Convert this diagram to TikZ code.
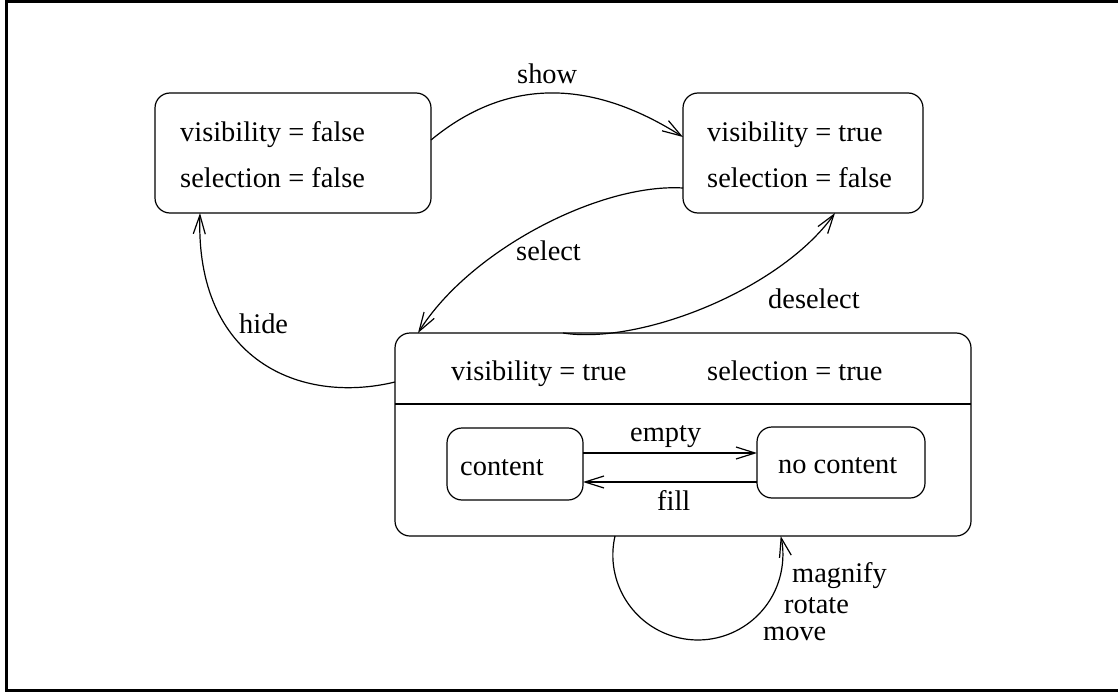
\documentclass[tikz,border=0pt]{standalone}
\usepackage{fontspec}
\setmainfont{Liberation Serif}
\usetikzlibrary{arrows.meta,calc}
\begin{document}
\begin{tikzpicture}[x=1pt,y=-1pt,
  box/.style={draw, rounded corners=15pt, line width=1.2pt, inner sep=0pt, outer sep=0pt},
  txt/.style={font=\fontsize{28.4}{34}\selectfont, anchor=base west, inner sep=0pt},
  arr/.style={line width=1.2pt, -{Straight Barb[length=19pt,width=12pt,line width=1.2pt]}}]
\useasboundingbox (0,0) rectangle (1118,695);
\begin{scope}
\clip (0,0) rectangle (1118,695);
\draw[line width=3.3pt] (6.5,1.7) rectangle (1140,690.8);
\end{scope}
% boxes
\node[box, minimum width=276pt, minimum height=120pt] (A) at (293,153) {};
\node[box, minimum width=240pt, minimum height=120pt] (B) at (803,153) {};
\node[box, minimum width=576pt, minimum height=203pt] (C) at (683,434.5) {};
\node[box, minimum width=136pt, minimum height=72pt] (Cont) at (515,464) {};
\node[box, minimum width=168pt, minimum height=71pt] (NoC) at (841,462.5) {};
\draw[line width=1.2pt] (C.west |- 0,404) -- (C.east |- 0,404);
% texts in boxes
\node[txt] (a1) at (180,142) {visibility = false};
\node[txt] (a2) at (180,188) {selection = false};
\node[txt] (b1) at (707,142) {visibility = true};
\node[txt] (b2) at (707,188) {selection = false};
\node[txt] (c1) at (451,380) {visibility = true};
\node[txt] (c2) at (707,380) {selection = true};
\node[txt] (ct) at (460,475) {content};
\node[txt] (nc) at (778,473) {no content};
% connectors
\draw[arr] (A.east |- 0,140) .. controls (506,78) and (590,78) .. (B.west |- 0,137);
\draw[arr] (B.west |- 0,188) .. controls (600,183) and (470,250) .. (C.north -| 418,0);
\draw[arr] (C.north -| 563,0) .. controls (640,345) and (780,290) .. (B.south -| 835,0);
\draw[arr] (C.west |- 0,382) .. controls (300,405) and (195,360) .. (A.south -| 200,0);
\draw[arr] (C.south -| 615,0) arc[start angle=192.9, end angle=-12.9, radius=85];
\draw[arr] (Cont.east |- 0,453) -- (NoC.west |- 0,453);
\draw[arr] (NoC.west |- 0,482) -- (Cont.east |- 0,482);
% labels
\node[txt] (lshow) at (517,84) {show};
\node[txt] (lsel) at (516,260) {select};
\node[txt] (ldes) at (768,308) {deselect};
\node[txt] (lhide) at (239,333) {hide};
\node[txt] (lemp) at (630,441) {empty};
\node[txt] (lfill) at (657,510) {fill};
\node[txt] (lmag) at (792,582) {magnify};
\node[txt] (lrot) at (784,613) {rotate};
\node[txt] (lmov) at (763,640) {move};
\end{tikzpicture}
\end{document}
